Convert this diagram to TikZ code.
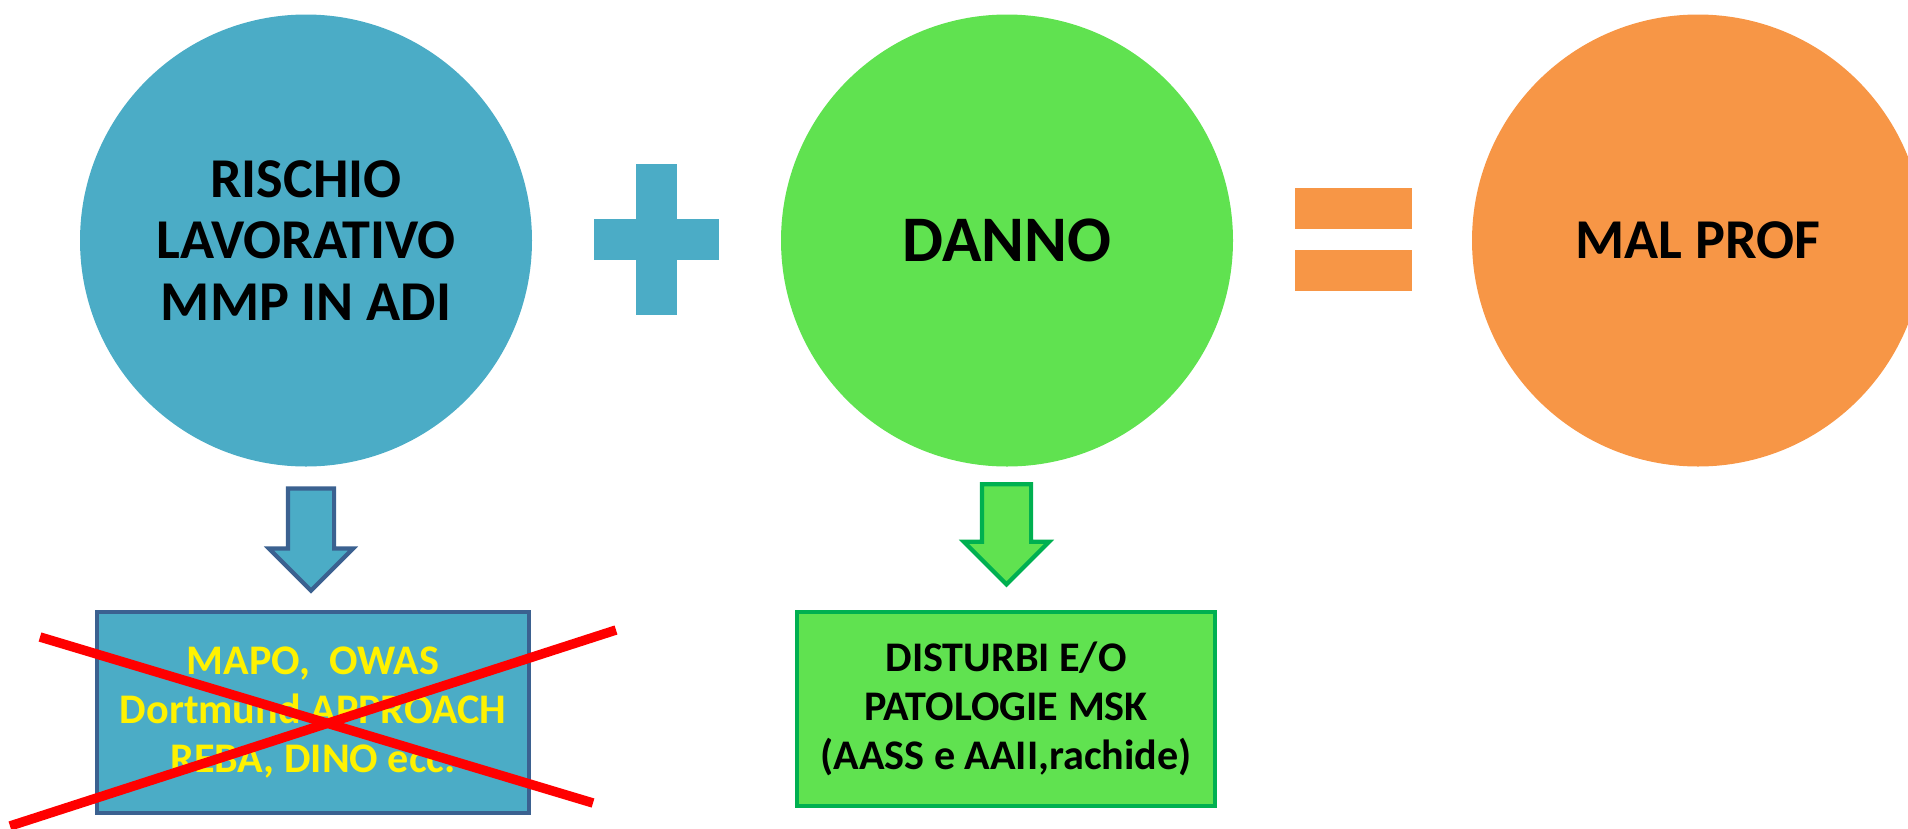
\documentclass[tikz,border=0pt]{standalone}
\usepackage{fontspec}
\setmainfont{Carlito}
\usetikzlibrary{shapes.arrows}
\definecolor{riskblue}{HTML}{4BACC6}
\definecolor{riskline}{HTML}{3B6190}
\definecolor{harmgreen}{HTML}{60E250}
\definecolor{harmline}{HTML}{00B050}
\definecolor{profoange}{HTML}{F79646}
\begin{document}
\begin{tikzpicture}
	[bubble/.style={circle,minimum size=4.52cm,inner sep=0pt,align=center,font=\bfseries\fontsize{16}{17.6}\selectfont},
	 downarrow/.style={single arrow,rotate=-90,inner xsep=0pt,line width=1.2pt},
	 box/.style={rectangle,draw,line width=1.2pt,align=center,inner sep=0pt,font=\bfseries\fontsize{12}{14}\selectfont},
	 cross/.style={red,line width=2.7pt}]
    \useasboundingbox (0,0) rectangle (19.08,-8.28);
    \node[bubble,fill=riskblue] (rischio) at (3.06,-2.405) {RISCHIO\\LAVORATIVO\\MMP IN ADI};
    \node[bubble,fill=harmgreen,font=\bfseries\fontsize{18.5}{20}\selectfont] (danno) at (10.07,-2.405) {DANNO};
    \node[bubble,fill=profoange] (malprof) at (16.98,-2.405) {MAL PROF};
    % plus and equals
    \fill[riskblue] (6.36,-1.64) rectangle (6.77,-3.15);
    \fill[riskblue] (5.94,-2.19) rectangle (7.19,-2.60);
    \fill[profoange] (12.95,-1.88) rectangle (14.12,-2.29);
    \fill[profoange] (12.95,-2.50) rectangle (14.12,-2.91);
    % arrows down to the boxes
    \node[downarrow,draw=riskline,fill=riskblue,minimum height=1.02cm,inner ysep=0.21cm,single arrow head extend=0.19cm] (arisk) at (3.11,-5.28) {};
    \node[downarrow,draw=harmline,fill=harmgreen,minimum height=1.0cm,inner ysep=0.225cm,single arrow head extend=0.18cm] (aharm) at (10.065,-5.22) {};
    \node[box,draw=riskline,fill=riskblue,text=yellow,minimum width=4.32cm,minimum height=2.01cm] (metodi) at (3.13,-7.125)
        {MAPO,\ \ OWAS\\Dortmund APPROACH\\REBA, DINO ecc.};
    \node[box,draw=harmline,fill=harmgreen,minimum width=4.18cm,minimum height=1.94cm] (disturbi) at (10.06,-7.09)
        {DISTURBI E/O\\PATOLOGIE MSK\\(AASS e AAII,rachide)};
    % crossed out
    \draw[cross] (0.40,-6.37) -- (5.93,-8.03);
    \draw[cross] (0.10,-8.26) -- (6.16,-6.30);
\end{tikzpicture}
\end{document}
